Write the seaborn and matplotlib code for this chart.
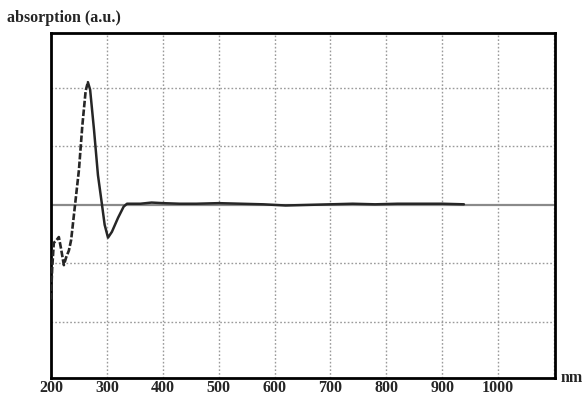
import numpy as np
import pandas as pd
import matplotlib
matplotlib.use("Agg")
import matplotlib.pyplot as plt
import seaborn as sns

# Wavelength (nm) and absorption (a.u., grid units)
wavelength_rise = [200, 202, 205, 210, 214, 218, 223, 227, 232, 236, 243, 250, 256, 262, 266]
absorb_rise = [-1.62, -1.10, -0.65, -0.60, -0.55, -0.75, -1.03, -0.90, -0.78, -0.60, 0.00, 0.60, 1.35, 1.95, 2.10]

wavelength_fall = [266, 270, 277, 284, 291, 296, 302, 309, 320, 330, 336, 360, 380, 400, 430, 460, 500, 540, 580, 620, 660, 700, 740, 780, 820, 860, 900, 939]
absorb_fall = [2.10, 1.97, 1.28, 0.51, 0.02, -0.34, -0.56, -0.46, -0.22, -0.03, 0.02, 0.02, 0.04, 0.03, 0.02, 0.02, 0.03, 0.02, 0.01, -0.01, 0.0, 0.01, 0.02, 0.01, 0.02, 0.02, 0.02, 0.01]

x_ticks = [200, 300, 400, 500, 600, 700, 800, 900, 1000]
grid_x = [300, 400, 500, 600, 700, 800, 900, 1000, 1100]
grid_y = [-2, -1, 1, 2]

sns.set_style("white")
plt.rcParams["font.family"] = ["Liberation Serif", "DejaVu Serif"]

fig = plt.figure(figsize=(5.85, 3.97), dpi=100)
ax = fig.add_axes([0.0872, 0.0479, 0.8615, 0.869])

for gx in grid_x:
    ax.axvline(gx, color="#9a9a9a", lw=1.0, ls=(0, (1.2, 1.5)), zorder=1)
for gy in grid_y:
    ax.axhline(gy, color="#9a9a9a", lw=1.0, ls=(0, (1.2, 1.5)), zorder=1)
ax.axhline(0, color="#8a8a8a", lw=1.6, zorder=2)

df_rise = pd.DataFrame({"nm": wavelength_rise, "abs": absorb_rise})
df_fall = pd.DataFrame({"nm": wavelength_fall, "abs": absorb_fall})
sns.lineplot(data=df_rise, x="nm", y="abs", ax=ax, color="#262626", lw=1.9,
             linestyle=(0, (2.5, 0.8)), sort=False, zorder=3)
sns.lineplot(data=df_fall, x="nm", y="abs", ax=ax, color="#262626", lw=1.8,
             sort=False, zorder=3)

ax.set_xlim(200, 1102)
ax.set_ylim(-2.96, 2.94)
ax.set_xticks(x_ticks)
ax.set_xticklabels([str(t) for t in x_ticks], fontsize=11.5, fontweight="bold")
ax.set_yticks([])
ax.tick_params(axis="x", length=0, pad=1.5)
ax.set_xlabel("")
ax.set_ylabel("")
for s in ax.spines.values():
    s.set_color("black")
    s.set_linewidth(2.0)

fig.text(0.012, 0.955, "absorption (a.u.)", fontsize=11.5, fontweight="bold",
         ha="left", va="center")
fig.text(0.958, 0.048, "nm", fontsize=11.5, fontweight="bold", ha="left", va="center")

fig.savefig("out.png", dpi=100, facecolor="white")
